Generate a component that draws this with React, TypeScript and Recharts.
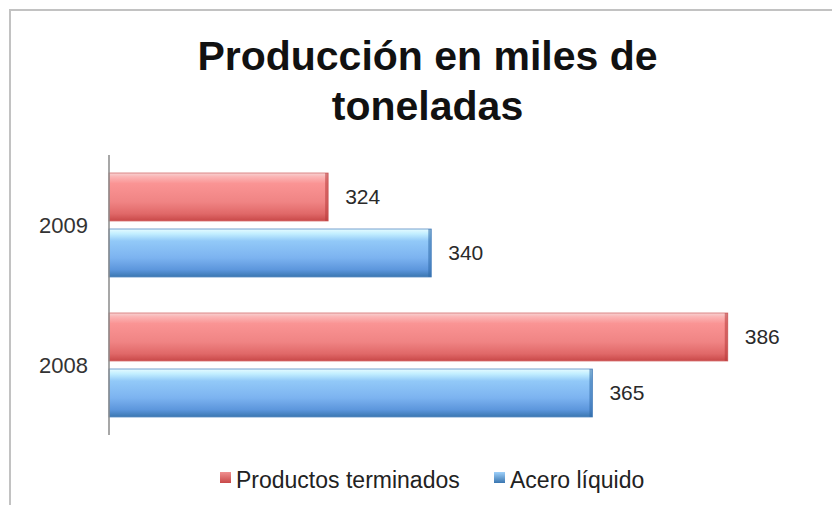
import React from "react";
import { BarChart, Bar, XAxis, YAxis, LabelList } from "recharts";

const years = ["2009", "2008"];
const productosTerminados = [324, 386];
const aceroLiquido = [340, 365];
const seriesNames = ["Productos terminados", "Acero líquido"];
const titleLines = ["Producción en miles de", "toneladas"];

const data = years.map((y, i) => ({
  year: y,
  pt: productosTerminados[i],
  al: aceroLiquido[i],
}));

const FONT = "'Liberation Sans', Arial, Helvetica, sans-serif";

const makeShape = (gradId: string, edge: string, stroke: string) => (props: any) => {
  const { x, y, width, height } = props;
  if (width <= 0) return null;
  return (
    <g>
      <rect x={x} y={y} width={width} height={height} fill={`url(#${gradId})`} stroke={stroke} strokeWidth={0.8} />
      <rect x={x + width - 3} y={y} width={3} height={height} fill={edge} opacity={0.55} />
    </g>
  );
};

const redShape = makeShape("gRed", "#b83a3a", "#d67070");
const blueShape = makeShape("gBlue", "#2f6aa8", "#5a8cc4");

export default function App() {
  return (
    <div style={{ position: "absolute", left: 0, top: 0, width: 832, height: 505, overflow: "hidden", background: "#fff", fontFamily: FONT }}>
      <div style={{ position: "absolute", left: 9, top: 9, width: 900, height: 600, borderTop: "2px solid #c2c2c2", borderLeft: "2px solid #c2c2c2" }} />
      <div style={{ position: "absolute", left: 10, top: 31, width: 835, textAlign: "center", fontWeight: "bold", fontSize: 41, lineHeight: "50px", color: "#111" }}>
        {titleLines.map((t) => (
          <div key={t}>{t}</div>
        ))}
      </div>
      <div style={{ position: "absolute", left: 0, top: 0 }}>
        <BarChart
          width={832}
          height={505}
          data={data}
          layout="vertical"
          margin={{ top: 155, right: 14, bottom: 70, left: 10 }}
          barCategoryGap={18}
          barGap={8}
        >
          <defs>
            <linearGradient id="gRed" x1="0" y1="0" x2="0" y2="1">
              <stop offset="0" stopColor="#f6d2d2" />
              <stop offset="0.08" stopColor="#fbb4b4" />
              <stop offset="0.22" stopColor="#fa9494" />
              <stop offset="0.6" stopColor="#f08484" />
              <stop offset="0.85" stopColor="#e06868" />
              <stop offset="1" stopColor="#c84848" />
            </linearGradient>
            <linearGradient id="gBlue" x1="0" y1="0" x2="0" y2="1">
              <stop offset="0" stopColor="#e6fbff" />
              <stop offset="0.1" stopColor="#c2eeff" />
              <stop offset="0.25" stopColor="#92c9f8" />
              <stop offset="0.6" stopColor="#7cb3f0" />
              <stop offset="0.85" stopColor="#5c96dc" />
              <stop offset="1" stopColor="#3a76b0" />
            </linearGradient>
          </defs>
          <XAxis type="number" domain={[290, 400]} hide />
          <YAxis
            type="category"
            dataKey="year"
            width={99}
            axisLine={{ stroke: "#8a8a8a", strokeWidth: 1.5 }}
            tickLine={false}
            tickSize={0}
            tickMargin={21}
            tick={{ fontSize: 22, fill: "#333", fontFamily: FONT }}
          />
          <Bar dataKey="pt" name={seriesNames[0]} isAnimationActive={false} shape={redShape}>
            <LabelList dataKey="pt" position="right" offset={17} style={{ fontSize: 21, fill: "#2a2a2a", fontFamily: FONT }} />
          </Bar>
          <Bar dataKey="al" name={seriesNames[1]} isAnimationActive={false} shape={blueShape}>
            <LabelList dataKey="al" position="right" offset={17} style={{ fontSize: 21, fill: "#2a2a2a", fontFamily: FONT }} />
          </Bar>
        </BarChart>
      </div>
      <div style={{ position: "absolute", left: 220, top: 466, fontSize: 23, color: "#222", lineHeight: "28px", whiteSpace: "nowrap" }}>
        <span style={{ display: "inline-block", width: 11, height: 11, background: "linear-gradient(#f09090, #c84848)", marginRight: 5, verticalAlign: "top", marginTop: 6 }} />
        <span>{seriesNames[0]}</span>
      </div>
      <div style={{ position: "absolute", left: 494, top: 466, fontSize: 23, color: "#222", lineHeight: "28px", whiteSpace: "nowrap" }}>
        <span style={{ display: "inline-block", width: 11, height: 11, background: "linear-gradient(#9ed0fa, #3a76b0)", marginRight: 5, verticalAlign: "top", marginTop: 6 }} />
        <span>{seriesNames[1]}</span>
      </div>
    </div>
  );
}
